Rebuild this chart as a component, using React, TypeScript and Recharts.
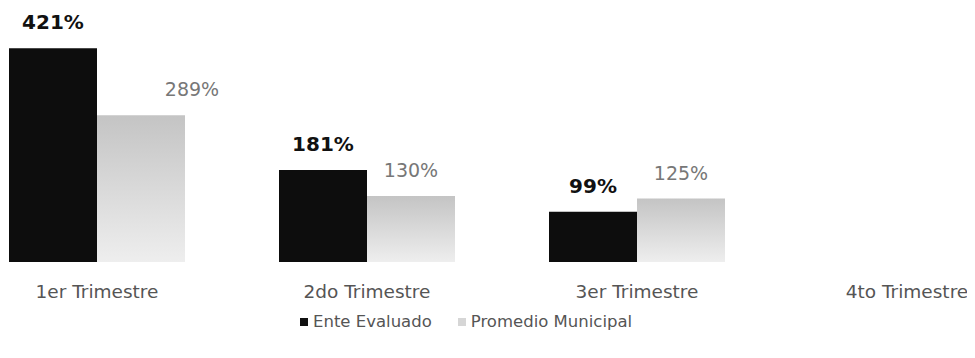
import { BarChart, Bar, XAxis, YAxis, LabelList, Legend } from "recharts"

const categories = ["1er Trimestre", "2do Trimestre", "3er Trimestre", "4to Trimestre"]
const enteEvaluado = [421, 181, 99, null]
const promedioMunicipal = [289, 130, 125, null]

const seriesNames = ["Ente Evaluado", "Promedio Municipal"]

// first promedio label sits off to the right in the original
const promLabelShift = [51, 0, 0, 0]

const FONT = "'DejaVu Sans', sans-serif"

const data = categories.map((name, i) => ({
  name,
  ente: enteEvaluado[i],
  promedio: promedioMunicipal[i],
}))

const EnteLabel = (props: any) => {
  const { x, y, width, value } = props
  if (value == null) return null
  return (
    <text x={x + width / 2} y={y - 19} textAnchor="middle" fontFamily={FONT} fontSize={20} fontWeight="bold" fill="#111">
      {value}%
    </text>
  )
}

const PromLabel = (props: any) => {
  const { x, y, width, value, index } = props
  if (value == null) return null
  return (
    <text
      x={x + width / 2 + (promLabelShift[index] || 0)}
      y={y - 19}
      textAnchor="middle"
      fontFamily={FONT}
      fontSize={19}
      fill="#777"
    >
      {value}%
    </text>
  )
}

const LegendBox = () => (
  <div style={{ display: "flex", height: 20, lineHeight: "20px", fontFamily: FONT, fontSize: 16.5, color: "#555" }}>
    <span style={{ display: "flex", alignItems: "center", marginRight: 26 }}>
      <span style={{ width: 8, height: 8, background: "#111", marginRight: 5 }} />
      {seriesNames[0]}
    </span>
    <span style={{ display: "flex", alignItems: "center" }}>
      <span style={{ width: 8, height: 8, background: "#d6d6d6", marginRight: 5 }} />
      {seriesNames[1]}
    </span>
  </div>
)

export default function App() {
  return (
    <div style={{ position: "relative", width: 975, height: 358, overflow: "hidden", margin: -8, background: "#fff" }}>
      <div style={{ position: "absolute", left: -38, top: 0 }}>
        <BarChart
          width={1080}
          height={358}
          data={data}
          margin={{ top: 8, right: 0, left: 0, bottom: 26 }}
          barGap={0}
          barSize={88}
        >
          <defs>
            <linearGradient id="promFill" x1="0" y1="0" x2="0" y2="1">
              <stop offset="0%" stopColor="#c4c4c4" />
              <stop offset="100%" stopColor="#eeeeee" />
            </linearGradient>
          </defs>
          <XAxis
            dataKey="name"
            height={50}
            axisLine={false}
            tickLine={false}
            tickMargin={17}
            interval={0}
            tick={{ fontSize: 18.5, fill: "#555", fontFamily: FONT }}
          />
          <YAxis hide domain={[0, 500]} />
          <Legend
            verticalAlign="bottom"
            align="left"
            content={<LegendBox />}
            wrapperStyle={{ left: 338, width: "auto", height: 20 }}
          />
          <Bar dataKey="ente" name={seriesNames[0]} fill="#0d0d0d" isAnimationActive={false}>
            <LabelList dataKey="ente" content={EnteLabel} />
          </Bar>
          <Bar dataKey="promedio" name={seriesNames[1]} fill="url(#promFill)" isAnimationActive={false}>
            <LabelList dataKey="promedio" content={PromLabel} />
          </Bar>
        </BarChart>
      </div>
    </div>
  )
}
